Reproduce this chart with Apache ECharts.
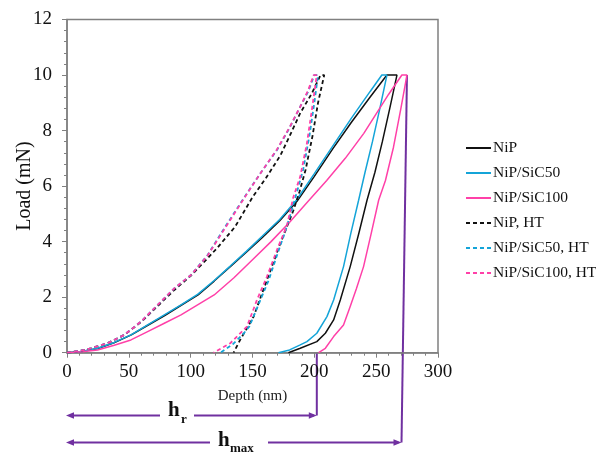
<!DOCTYPE html>
<html>
<head>
<meta charset="utf-8">
<script src="https://cdn.jsdelivr.net/npm/echarts@6/dist/echarts.min.js"></script>
<style>html,body{margin:0;padding:0;background:#fff;}#c{width:596px;height:455px;}</style>
</head>
<body>
<div id="c"></div>
<script>
// ---- data: [depth (nm), load (mN)] ----
const seriesNames = ['NiP', 'NiP/SiC50', 'NiP/SiC100', 'NiP, HT', 'NiP/SiC50, HT', 'NiP/SiC100, HT'];

const nip = [[0,0],[12,0.04],[25,0.15],[38,0.36],[52,0.64],[65,0.98],[79,1.34],[92,1.7],[106,2.08],[119,2.58],[132,3.1],[145,3.62],[158,4.15],[172,4.75],[186,5.45],[200,6.35],[215,7.35],[230,8.3],[245,9.2],[258.7,10],[266.8,10],
  [261,8.8],[255,7.6],[249,6.5],[242.6,5.49],[236,4.3],[229,3.1],[221,1.9],[215.6,1.18],[208.9,0.7],[202,0.4],[188.6,0.16],[179,0]];

const sic50 = [[0,0],[12,0.04],[24.7,0.16],[38.2,0.37],[51.7,0.64],[65.2,1.0],[78.7,1.36],[92.2,1.72],[105.6,2.1],[119,2.6],[132,3.12],[145,3.65],[158,4.2],[172,4.8],[185.6,5.5],[200,6.45],[215,7.45],[230,8.45],[245,9.4],[254.6,10],[258.7,10],
  [253,8.8],[247,7.6],[241,6.5],[235.8,5.49],[229.5,4.3],[223.6,3.1],[215.6,1.9],[210.2,1.3],[202,0.7],[194,0.4],[188.6,0.28],[180,0.1],[171,0]];

const sic100 = [[0,0],[12,0.03],[24.7,0.1],[38.2,0.27],[51.7,0.46],[65.2,0.76],[78.7,1.06],[92.2,1.36],[105.6,1.72],[119,2.08],[135,2.7],[150,3.35],[165,4.0],[180,4.7],[195,5.45],[210,6.2],[225,7.0],[240,7.9],[250,8.6],[260,9.3],[270.8,10],[274.9,10],
  [270,8.8],[264,7.4],[257.5,6.2],[252,5.49],[246,4.3],[239.8,3.1],[234,2.3],[229,1.66],[223.6,1.0],[215.6,0.58],[208.9,0.16],[203.5,0]];

const nipHT = [[0,0],[10,0.06],[19.4,0.16],[32.8,0.34],[46.3,0.64],[59.8,1.1],[73.3,1.68],[86.8,2.26],[100.3,2.78],[113.7,3.4],[122,3.8],[136,4.54],[150,5.6],[161,6.3],[172.5,7.1],[180,7.8],[188.6,8.63],[198,9.34],[205,10],[208,10],
  [203,9.0],[198.5,7.8],[193,6.6],[188,5.8],[183.2,5.14],[172.5,3.94],[161.7,2.62],[150.9,1.3],[140,0.46],[134.7,0]];

const sic50HT = [[0,0],[10,0.06],[19.4,0.16],[32.8,0.34],[46.3,0.64],[59.8,1.12],[73.3,1.72],[86.8,2.32],[100.3,2.8],[113.7,3.52],[128,4.54],[145.5,5.74],[157,6.5],[169.8,7.3],[180,8.1],[188.6,8.86],[195,9.4],[200,10],[203,10],
  [200,9.0],[196,7.8],[191,6.6],[186,5.8],[181.5,5.1],[176,4.3],[170.5,3.6],[163,2.6],[155,1.75],[147.5,0.95],[143,0.7],[134,0.3],[124,0]];

const sic100HT = [[0,0],[10,0.06],[19.4,0.16],[32.8,0.34],[46.3,0.64],[59.8,1.12],[73.3,1.72],[86.8,2.32],[100.3,2.8],[113.7,3.5],[128,4.5],[145.5,5.72],[157,6.5],[169.8,7.32],[180,8.12],[188.6,8.86],[195,9.45],[199.5,10],[202,10],
  [198,8.74],[194,7.54],[188.6,6.34],[183,5.6],[178,4.6],[169.8,3.7],[161.7,2.74],[153.6,1.9],[145.5,0.94],[132,0.34],[118.5,0]];

// annotation depths (nm)
const hrDepth = 202;
const hmaxTop = [274.9, 10];
const hmaxBottomDepth = 270.5;

const xTicks = {min: 0, max: 300, interval: 50};
const yTicks = {min: 0, max: 12, interval: 2};

// ---- chart ----
const FONT = '"Liberation Serif", "Times New Roman", serif';
const BLACK = '#111111', CYAN = '#14a4d8', PINK = '#ff40a8', PURPLE = '#7030a0', GRAY = '#808080';
const dataList = [nip, sic50, sic100, nipHT, sic50HT, sic100HT];
const colors = [BLACK, CYAN, PINK, BLACK, CYAN, PINK];
const dashed = [false, false, false, true, true, true];

const chart = echarts.init(document.getElementById('c'), null, {renderer: 'canvas'});

const series = dataList.map((d, i) => ({
  name: seriesNames[i],
  type: 'line',
  data: d,
  symbol: 'none',
  showSymbol: false,
  smooth: false,
  color: colors[i],
  lineStyle: dashed[i]
    ? {color: colors[i], width: 1.8, type: [4, 3]}
    : {color: colors[i], width: 1.5, type: 'solid'},
  z: dashed[i] ? 3 : 2,
  animation: false
}));

chart.setOption({
  animation: false,
  backgroundColor: '#fff',
  grid: {left: 67, right: 158, top: 19.5, bottom: 102.3, show: true, borderColor: GRAY, borderWidth: 1.5, containLabel: false},
  legend: {
    orient: 'vertical', left: 465, top: 140, padding: 0,
    itemWidth: 25, itemHeight: 14, itemGap: 9,
    itemStyle: {opacity: 0},
    textStyle: {fontFamily: FONT, fontSize: 15.5, color: '#111', padding: [0, 0, 0, -3]},
    data: seriesNames
  },
  xAxis: {
    type: 'value', min: xTicks.min, max: xTicks.max, interval: xTicks.interval,
    name: 'Depth (nm)', nameLocation: 'middle', nameGap: 36, nameMoveOverlap: false,
    nameTextStyle: {fontFamily: FONT, fontSize: 15, color: '#222'},
    axisLine: {show: true, onZero: false, lineStyle: {color: GRAY, width: 1.5}},
    axisTick: {show: true, inside: false, length: 5, lineStyle: {color: GRAY, width: 1}},
    minorTick: {show: true, splitNumber: 5, length: 3, lineStyle: {color: GRAY, width: 1}},
    axisLabel: {fontFamily: FONT, fontSize: 19, color: '#111', margin: 10},
    splitLine: {show: false}
  },
  yAxis: {
    type: 'value', min: yTicks.min, max: yTicks.max, interval: yTicks.interval,
    name: 'Load (mN)', nameLocation: 'middle', nameGap: 32, nameRotate: 90, nameMoveOverlap: false,
    nameTextStyle: {fontFamily: FONT, fontSize: 20, color: '#111'},
    axisLine: {show: true, onZero: false, lineStyle: {color: GRAY, width: 1.5}},
    axisTick: {show: true, inside: false, length: 5, lineStyle: {color: GRAY, width: 1}},
    minorTick: {show: true, splitNumber: 5, length: 3, lineStyle: {color: GRAY, width: 1}},
    axisLabel: {fontFamily: FONT, fontSize: 19, color: '#111', margin: 15},
    splitLine: {show: false}
  },
  series: series
});

// ---- annotations (h_r, h_max) below the axis ----
const px = (x, y) => chart.convertToPixel({gridIndex: 0}, [x, y]);
const origin = px(0, 0);
const hrPt = px(hrDepth, 0);
const hmTop = px(hmaxTop[0], hmaxTop[1]);
const hmBotX = px(hmaxBottomDepth, 0)[0];
const x0 = origin[0];
const hrY = 415.5, hmY = 442.5;
const ls = {stroke: PURPLE, lineWidth: 2};
const arrowL = (x, y) => ({type: 'polygon', shape: {points: [[x - 1, y], [x + 7, y - 3.2], [x + 7, y + 3.2]]}, style: {fill: PURPLE}});
const arrowR = (x, y) => ({type: 'polygon', shape: {points: [[x + 1, y], [x - 7, y - 3.2], [x - 7, y + 3.2]]}, style: {fill: PURPLE}});
const txt = (x, y, t, size) => ({type: 'text', x: x, y: y, style: {text: t, fontFamily: FONT, fontSize: size, fontWeight: 'bold', fill: '#111', textVerticalAlign: 'bottom'}});

chart.setOption({
  graphic: [
    // h_r
    {type: 'line', shape: {x1: x0 + 4, y1: hrY, x2: 160, y2: hrY}, style: ls},
    {type: 'line', shape: {x1: 194, y1: hrY, x2: hrPt[0] - 3, y2: hrY}, style: ls},
    {type: 'line', shape: {x1: hrPt[0], y1: hrPt[1], x2: hrPt[0], y2: hrY}, style: ls},
    arrowL(x0, hrY), arrowR(hrPt[0] - 1, hrY),
    txt(168, 421, 'h', 21), txt(181, 426, 'r', 13),
    // h_max
    {type: 'line', shape: {x1: x0 + 4, y1: hmY, x2: 210, y2: hmY}, style: ls},
    {type: 'line', shape: {x1: 268, y1: hmY, x2: hmBotX - 3, y2: hmY}, style: ls},
    {type: 'line', shape: {x1: hmTop[0], y1: hmTop[1], x2: hmBotX, y2: hmY}, style: ls},
    arrowL(x0, hmY), arrowR(hmBotX - 1, hmY),
    txt(218, 451, 'h', 21), txt(230, 455, 'max', 13)
  ]
});
</script>
</body>
</html>
